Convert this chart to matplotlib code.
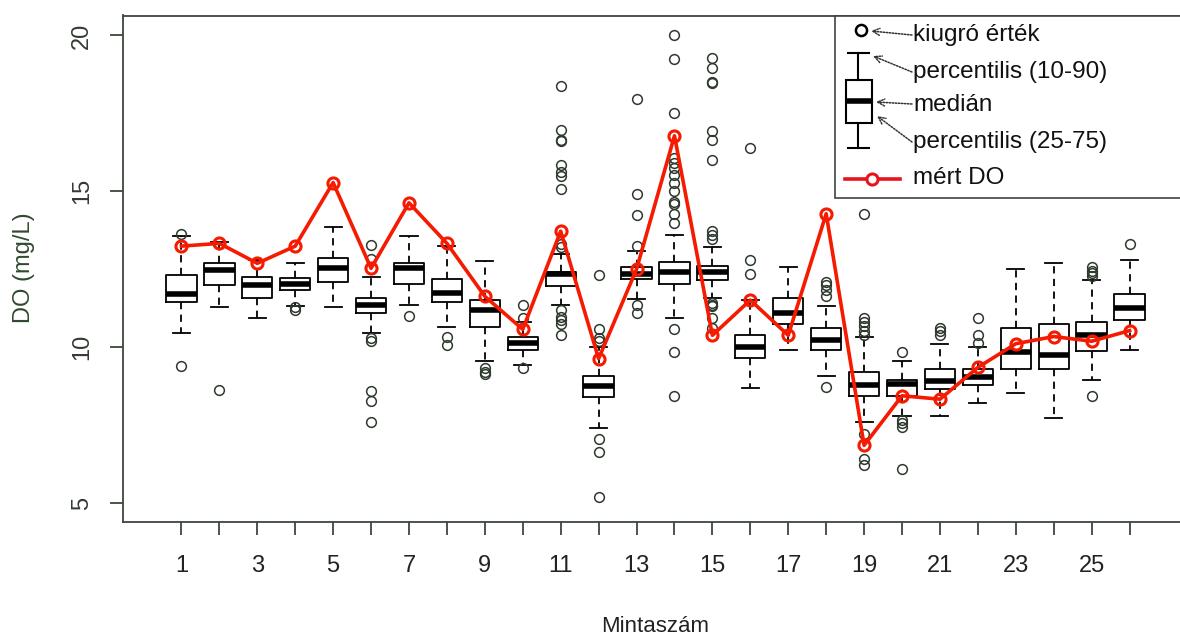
import matplotlib
matplotlib.use("Agg")
import matplotlib.pyplot as plt
from matplotlib.patches import Rectangle

plt.rcParams["font.family"] = ["Liberation Sans", "DejaVu Sans"]

# mintaszám 1..26
samples = list(range(1, 27))

whishi = [13.58, 13.37, 12.8, 12.69, 13.86, 12.24, 13.58, 13.24, 12.75, 10.8,
          13.0, 10.0, 13.07, 13.6, 13.2, 11.51, 12.56, 11.33, 10.34, 9.55,
          10.11, 10.0, 12.5, 12.69, 12.16, 12.78]
q3 = [12.33, 12.69, 12.26, 12.22, 12.85, 11.59, 12.69, 12.18, 11.5, 10.31,
      12.42, 9.06, 12.56, 12.73, 12.61, 10.4, 11.59, 10.6, 9.2, 8.95,
      9.3, 9.3, 10.6, 10.74, 10.82, 11.7]
med = [11.70, 12.48, 11.99, 12.02, 12.53, 11.36, 12.53, 11.74, 11.19, 10.14,
       12.35, 8.75, 12.35, 12.42, 12.42, 10.0, 11.11, 10.23, 8.78, 8.81,
       8.92, 9.03, 9.86, 9.74, 10.38, 11.27]
q1 = [11.44, 11.99, 11.59, 11.84, 12.08, 11.11, 12.02, 11.44, 10.65, 9.91,
      11.95, 8.39, 12.18, 12.02, 12.16, 9.64, 10.74, 9.91, 8.44, 8.44,
      8.67, 8.78, 9.3, 9.3, 9.89, 10.88]
whislo = [10.45, 11.28, 10.93, 11.33, 11.28, 10.45, 11.36, 10.65, 9.55, 9.43,
          11.36, 7.39, 11.56, 10.93, 11.59, 8.69, 9.91, 9.09, 7.61, 7.78,
          7.78, 8.22, 8.52, 7.73, 8.95, 9.92]
fliers = [
    [13.64, 9.40],
    [8.64],
    [],
    [11.28, 11.2],
    [],
    [13.28, 12.84, 10.28, 10.19, 8.6, 8.26, 7.61],
    [10.99],
    [10.31, 10.06],
    [9.32, 9.2, 9.15],
    [11.36, 10.93, 9.32],
    [18.38, 16.97, 16.65, 16.6, 15.85, 15.62, 15.49, 15.06, 13.3, 13.2,
     11.19, 10.97, 10.86, 10.74, 10.4],
    [12.33, 10.57, 10.28, 10.2, 7.05, 6.65, 5.2],
    [17.95, 14.9, 14.23, 13.24, 11.36, 11.08],
    [20.0, 19.24, 17.5, 16.08, 15.9, 15.74, 15.51, 15.28, 15.0, 14.66, 14.6,
     14.26, 13.98, 10.57, 9.83, 8.44],
    [19.28, 18.94, 18.52, 18.47, 16.93, 16.65, 16.02, 13.72, 13.6, 13.47,
     11.42, 11.36, 11.33, 10.93, 10.63],
    [16.4, 12.81, 12.35],
    [],
    [12.1, 11.99, 11.82, 11.65, 8.72],
    [14.28, 10.93, 10.8, 10.68, 10.51, 10.4, 7.22, 6.42, 6.22],
    [9.83, 7.67, 7.56, 7.44, 6.08],
    [10.6, 10.51, 10.4],
    [10.94, 10.4, 10.14],
    [],
    [],
    [12.58, 12.45, 12.39, 12.28, 8.44],
    [13.3],
]
# mért DO
measured = [13.24, 13.33, 12.69, 13.24, 15.28, 12.53, 14.63, 13.33, 11.63, 10.57,
            13.72, 9.63, 12.5, 16.78, 10.38, 11.51, 10.38, 14.28, 6.85, 8.44,
            8.33, 9.35, 10.11, 10.34, 10.19, 10.53]

stats = []
for i in range(len(samples)):
    stats.append(dict(med=med[i], q1=q1[i], q3=q3[i], whislo=whislo[i],
                      whishi=whishi[i], fliers=fliers[i]))

W, H = 1180, 639
fig = plt.figure(figsize=(W / 100, H / 100), dpi=100)
ax = fig.add_axes([123 / W, (H - 522) / H, (1188 - 123) / W, (522 - 15.5) / H])

frame_col = "#3c463c"
flier_col = "#2e3a2e"

ax.bxp(stats, positions=samples, widths=0.8, capwidths=0.45,
       boxprops=dict(color="black", lw=1.3),
       whiskerprops=dict(color="black", lw=1.3, linestyle=(0, (4, 3))),
       capprops=dict(color="black", lw=1.3),
       medianprops=dict(color="black", lw=4, solid_capstyle="butt"),
       flierprops=dict(marker="o", markersize=7, markerfacecolor="none",
                       markeredgecolor=flier_col, markeredgewidth=1.1))

ax.plot(samples, measured, color="#f51a00", lw=2.6, marker="o", ms=8,
        mfc="none", mec="#f51a00", mew=2.2, zorder=5)

ax.set_xlim(-0.54, 27.54)
ax.set_ylim(4.39, 20.64)

ax.set_xticks(samples)
ax.set_xticklabels([str(s) if s % 2 == 1 and s < 26 else "" for s in samples],
                   fontsize=17, color="#222222")
ax.set_yticks([5, 10, 15, 20])
ax.set_yticklabels(["5", "10", "15", "20"], rotation=90, va="center",
                   fontsize=17, color="#333c33")
ax.tick_params(axis="both", length=9.5, width=1.3, color=frame_col)
ax.tick_params(axis="x", pad=14)
ax.tick_params(axis="y", pad=12)
for sp in ax.spines.values():
    sp.set_color(frame_col)
    sp.set_linewidth(1.3)

fig.text(24 / W, 1 - 268 / H, "DO (mg/L)", rotation=90, ha="center", va="center",
         fontsize=17, color="#2f4a2f")
fig.text(655 / W, 1 - 627 / H, "Mintaszám", ha="center", va="center",
         fontsize=16, color="#222222")

# legend drawn in pixel coordinates on an overlay axes
lg = fig.add_axes([0, 0, 1, 1])
lg.set_xlim(0, W)
lg.set_ylim(H, 0)
lg.axis("off")
lg.add_patch(Rectangle((835, 15.5), 360, 182, facecolor="white",
                       edgecolor=frame_col, lw=1.2))

lg.plot([861], [30], marker="o", ms=8, mfc="none", mec="black", mew=1.8)
lg.plot([858, 858], [53, 80], color="black", lw=1.5)
lg.plot([848, 869], [53, 53], color="black", lw=1.5)
lg.add_patch(Rectangle((846, 80), 26, 43, facecolor="none", edgecolor="black", lw=1.5))
lg.plot([846, 872], [101, 101], color="black", lw=4, solid_capstyle="butt")
lg.plot([858, 858], [123, 148], color="black", lw=1.5)
lg.plot([848, 869], [148, 148], color="black", lw=1.5)
lg.plot([845, 900], [179, 179], color="#e8141c", lw=2.6)
lg.plot([872], [179], marker="o", ms=8, mfc="white", mec="#e8141c", mew=2.2)

arrows = [((912, 35), (871, 31)), ((912, 72), (873, 56)),
          ((912, 104), (876, 102)), ((912, 142), (877, 116))]
for start, end in arrows:
    lg.annotate("", xy=end, xytext=start,
                arrowprops=dict(arrowstyle="->,head_length=0.5,head_width=0.25",
                                color="#333333", lw=1.1,
                                linestyle=(0, (1, 1)), shrinkA=0, shrinkB=0))

labels = ["kiugró érték", "percentilis (10-90)", "medián",
          "percentilis (25-75)", "mért DO"]
label_y = [35, 72, 105, 142, 178]
for txt, y in zip(labels, label_y):
    lg.text(913, y, txt, fontsize=17.5, va="center", ha="left", color="#111111")

fig.savefig("out.png", dpi=100)
